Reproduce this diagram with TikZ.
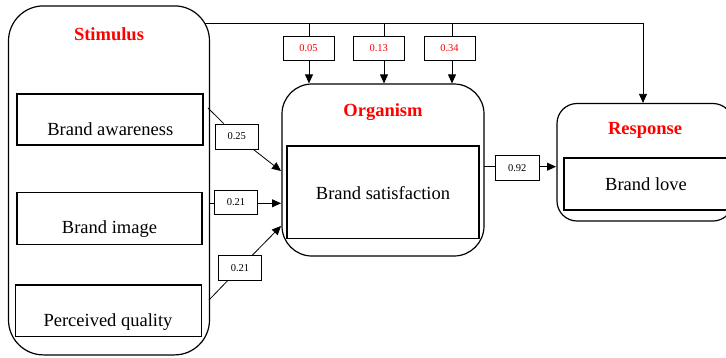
\documentclass[tikz,border=0pt]{standalone}
\usepackage{fontspec}
\setmainfont{Liberation Serif}
\usetikzlibrary{arrows.meta}
\begin{document}
\begin{tikzpicture}[x=1pt,y=-1pt,
 group/.style={draw,line width=1.2pt,rounded corners=#1,inner sep=0pt},
 inbox/.style={draw,line width=1.1pt,inner sep=0pt},
 ttl/.style={text=red,font=\fontsize{18.5}{20}\selectfont\bfseries,anchor=base,inner sep=0pt},
 txt/.style={font=\fontsize{18.5}{20}\selectfont,anchor=base,inner sep=0pt},
 wbox/.style={draw,line width=0.8pt,inner sep=0pt,fill=white,font=\fontsize{10.5}{12}\selectfont},
 rednum/.style={wbox,text=red},
 conn/.style={line width=0.8pt},
 arr/.style={line width=0.8pt,-{Triangle[length=9pt,width=8pt]}}
]
\useasboundingbox (0,0) rectangle (726,357);
\clip (0,0) rectangle (726,357);

% group boxes
\node[group=35pt,minimum width=201pt,minimum height=349pt] (stim) at (109,180.4) {};
\node[group=30pt,minimum width=202pt,minimum height=172pt] (org) at (383,170) {};
\node[group=20pt,minimum width=176pt,minimum height=117.5pt] (resp) at (645,162.25) {};

% titles
\node[ttl] (stimt) at (109,40) {Stimulus};
\node[ttl] (orgt) at (383,116) {Organism};
\node[ttl] (respt) at (645,134) {Response};

% inner boxes
\node[inbox,minimum width=186pt,minimum height=51pt] (ba) at (110,119.5) {};
\node[inbox,minimum width=185pt,minimum height=51.6pt] (bi) at (109.5,218.5) {};
\node[inbox,minimum width=186pt,minimum height=51.7pt] (pq) at (108.7,310.8) {};
\node[inbox,minimum width=192pt,minimum height=92.7pt] (bs) at (383,192.3) {};
\node[inbox,minimum width=164pt,minimum height=52pt] (bl) at (646,184) {};

\node[txt] (bat) at (110.3,135) {Brand awareness};
\node[txt] (bit) at (109.5,233.3) {Brand image};
\node[txt] (pqt) at (108,326) {Perceived quality};
\node[txt] (bst) at (383,199.3) {Brand satisfaction};
\node[txt] (blt) at (646,190.7) {Brand love};

% weight boxes
\node[wbox,minimum width=43.7pt,minimum height=25pt] (w1) at (236.8,136.5) {0.25};
\node[wbox,minimum width=43.4pt,minimum height=23.6pt] (w2) at (236,202.5) {0.21};
\node[wbox,minimum width=43.4pt,minimum height=24.3pt] (w3) at (240,267.8) {0.21};
\node[rednum,minimum width=51pt,minimum height=24pt] (w4) at (308.5,48) {0.05};
\node[rednum,minimum width=51pt,minimum height=24pt] (w5) at (378.8,48.5) {0.13};
\node[rednum,minimum width=51pt,minimum height=24pt] (w6) at (449.5,48.3) {0.34};
\node[wbox,minimum width=43.3pt,minimum height=24.3pt] (w7) at (517.3,167.8) {0.92};

% connector end points
\coordinate (s1) at (208,108);
\coordinate (e1) at (281,171);
\coordinate (s2) at (209,203.3);
\coordinate (e2) at (281,203.3);
\coordinate (s3) at (209,300);
\coordinate (e3) at (281,226);
\coordinate (t0) at (205,23);
\coordinate (t4) at (643,23);
\coordinate (d1) at (309,23);
\coordinate (d2) at (384,23);
\coordinate (d3) at (452,23);
\coordinate (o4) at (484,166.7);
\coordinate (r1) at (556,166.7);

% stimulus -> organism
\draw[conn] (s1) -- (w1);
\draw[arr] (w1) -- (e1);
\draw[conn] (s2) -- (w2.west |- s2);
\draw[arr] (w2.east |- s2) -- (e2);
\draw[conn] (s3) -- (w3);
\draw[arr] (w3) -- (e3);

% top line: stimulus -> response
\draw[arr] (t0) -- (t4) -- (t4 |- resp.north);

% drops to organism
\draw[conn] (d1) -- (d1 |- w4.north);
\draw[arr] (d1 |- w4.south) -- (d1 |- org.north);
\draw[conn] (d2) -- (d2 |- w5.north);
\draw[arr] (d2 |- w5.south) -- (d2 |- org.north);
\draw[conn] (d3) -- (d3 |- w6.north);
\draw[arr] (d3 |- w6.south) -- (d3 |- org.north);

% organism -> response
\draw[conn] (o4) -- (w7.west |- o4);
\draw[arr] (w7.east |- o4) -- (r1);
\end{tikzpicture}
\end{document}
